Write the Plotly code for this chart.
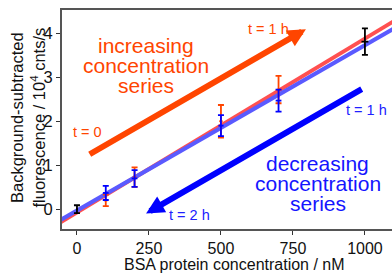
import plotly.graph_objects as go

# ---- data ----
conc_ref = [0, 1000]
fluor_ref = [0.0, 3.81]
fluor_ref_err = [0.09, 0.30]
conc_ref_err = [3, 12]

conc_inc = [100, 200, 500, 700]
fluor_inc = [0.20, 0.73, 2.00, 2.72]
fluor_inc_err = [0.13, 0.22, 0.37, 0.31]
conc_inc_err = [6, 6, 6, 6]

conc_dec = [100, 200, 500, 700]
fluor_dec = [0.37, 0.70, 1.90, 2.47]
fluor_dec_err = [0.16, 0.19, 0.24, 0.25]
conc_dec_err = [10, 10, 9, 10]

fit_names = ["increasing", "decreasing"]
fit_slope = [0.00395, 0.00376]
fit_intercept = [-0.07, -0.03]
fit_x = [-60, 1100]

x_ticks = [0, 250, 500, 750, 1000]
y_ticks = [0, 1, 2, 3, 4]

ORANGE = "#FF4500"
BLUE = "#0000FF"
FONT = "Liberation Sans, Arial, Helvetica, sans-serif"

fig = go.Figure()

fit_colors = ["rgba(255,80,80,1)", "rgba(90,90,255,1)"]
for name, m, b, c in zip(fit_names, fit_slope, fit_intercept, fit_colors):
    fig.add_trace(go.Scatter(
        x=fit_x, y=[m * x + b for x in fit_x], mode="lines",
        line=dict(color=c, width=4), hoverinfo="skip", showlegend=False))

def points(x, y, ex, ey, color):
    return go.Scatter(
        x=x, y=y, mode="markers",
        marker=dict(size=1, color=color),
        error_y=dict(type="data", array=ey, visible=True, color=color,
                     thickness=1.8, width=3),
        error_x=dict(type="data", array=ex, visible=True, color=color,
                     thickness=1.8, width=0),
        showlegend=False)

fig.add_trace(points(conc_inc, fluor_inc, conc_inc_err, fluor_inc_err, ORANGE))
fig.add_trace(points(conc_dec, fluor_dec, conc_dec_err, fluor_dec_err, BLUE))
fig.add_trace(points(conc_ref, fluor_ref, conc_ref_err, fluor_ref_err, "#000000"))

L, R, T, B = 62, 0, 10, 49
W, H = 392, 278
PW = W - L - R
PH = H - T - B

def px(xp):
    return (xp - L) / PW

def py(yp):
    return 1 - (yp - T) / PH

ann = []
def text(xp, yp, s, color, size, angle=0):
    ann.append(dict(xref="paper", yref="paper", x=px(xp), y=py(yp), text=s,
                    showarrow=False, xanchor="center", yanchor="middle",
                    textangle=angle,
                    font=dict(family=FONT, size=size, color=color)))

# big labels
text(146, 45, "increasing", ORANGE, 21)
text(146, 65, "concentration", ORANGE, 21)
text(146, 85, "series", ORANGE, 21)
text(317.5, 163, "decreasing", "#1515FF", 21)
text(317.5, 183, "concentration", "#1515FF", 21)
text(317.5, 203, "series", "#1515FF", 21)
# time labels
text(87, 132, "t = 0", ORANGE, 14.5)
text(268.5, 29, "t = 1 h", ORANGE, 14.5)
text(366, 110, "t = 1 h", "#2020FF", 14.5)
text(189.5, 215, "t = 2 h", "#2020FF", 14.5)
# axis titles
text(234, 264.5, "BSA protein concentration / nM", "#111111", 16)
text(17, 118, "Background-subtracted", "#111111", 16.5, -90)
text(38.5, 118, "fluorescence / 10<sup>4</sup> cnts/s", "#111111", 16.5, -90)

# arrows
ann.append(dict(x=795, y=4.09, ax=39, ay=1.23, xref="x", yref="y",
                axref="x", ayref="y", text="", showarrow=True,
                arrowhead=2, arrowwidth=6, arrowsize=0.6, arrowcolor=ORANGE,
                standoff=0))
ann.append(dict(x=240, y=-0.095, ax=994, ay=2.75, xref="x", yref="y",
                axref="x", ayref="y", text="", showarrow=True,
                arrowhead=2, arrowwidth=6, arrowsize=0.6, arrowcolor=BLUE,
                standoff=0))

fig.update_layout(
    width=W, height=H,
    margin=dict(l=L, r=R, t=T, b=B, pad=0, autoexpand=False),
    paper_bgcolor="white", plot_bgcolor="white",
    font=dict(family=FONT, size=16.5, color="#111111"),
    annotations=ann,
    xaxis=dict(range=[-52, 1094], tickvals=x_ticks, ticks="outside",
               ticklen=4, tickwidth=1.2, tickcolor="#333333", automargin=False,
               showline=True, linecolor="#555555", linewidth=2, mirror=True,
               showgrid=False, zeroline=False,
               tickfont=dict(family=FONT, size=16, color="#111111")),
    yaxis=dict(range=[-0.45, 4.53], tickvals=y_ticks, ticks="outside",
               ticklen=4, tickwidth=1.2, tickcolor="#333333", automargin=False,
               showline=True, linecolor="#555555", linewidth=2, mirror=False,
               showgrid=False, zeroline=False,
               tickfont=dict(family=FONT, size=16.5, color="#111111")),
)

fig.write_html("out.html", config={"displayModeBar": False},
               post_script="document.body.style.margin='0px';document.body.style.padding='0px';")
